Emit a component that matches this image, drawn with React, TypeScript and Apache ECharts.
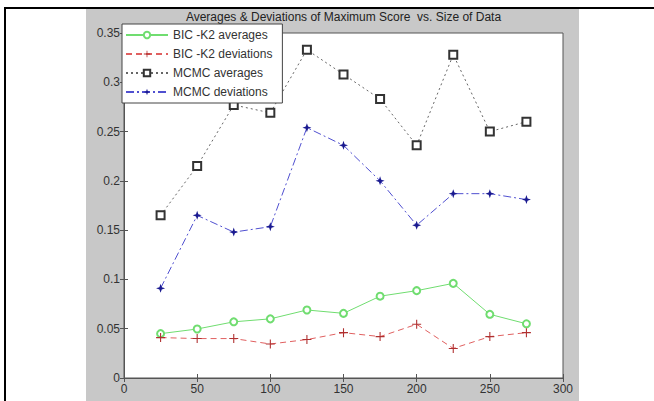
import React, { useEffect, useRef } from "react";
import * as echarts from "echarts";

const sizes = [25, 50, 75, 100, 125, 150, 175, 200, 225, 250, 275];
const bicAverages = [0.045, 0.0497, 0.057, 0.06, 0.069, 0.0656, 0.083, 0.0886, 0.096, 0.0646, 0.055];
const bicDeviations = [0.041, 0.04, 0.04, 0.0345, 0.039, 0.046, 0.042, 0.0545, 0.03, 0.042, 0.046];
const mcmcAverages = [0.165, 0.215, 0.277, 0.269, 0.333, 0.308, 0.283, 0.236, 0.328, 0.25, 0.26];
const mcmcDeviations = [0.091, 0.165, 0.148, 0.1535, 0.254, 0.236, 0.2, 0.155, 0.187, 0.187, 0.181];
const seriesNames = ["BIC -K2 averages", "BIC -K2 deviations", "MCMC averages", "MCMC deviations"];
const xTicks = { min: 0, max: 300, interval: 50 };
const yTicks = { min: 0, max: 0.35, interval: 0.05 };
const titleText = "Averages & Deviations of Maximum Score  vs. Size of Data";

const PLUS = "path://M4.4,0 H5.6 V4.4 H10 V5.6 H5.6 V10 H4.4 V5.6 H0 V4.4 H4.4 Z";
const STAR = "path://M5,0 L6.3,3.7 L10,5 L6.3,6.3 L5,10 L3.7,6.3 L0,5 L3.7,3.7 Z";

const FONT = "'Liberation Sans', Arial, sans-serif";

function pairs(vals: number[]) {
  return sizes.map((s, i) => [s, vals[i]]);
}

export default function App() {
  const ref = useRef<HTMLDivElement>(null);
  useEffect(() => {
    document.body.style.margin = "0";
    const chart = echarts.init(ref.current!, null, { renderer: "svg" });
    const tickStyle = { show: true, inside: true, length: 4, lineStyle: { color: "#555" } };
    const axisLine = { show: true, lineStyle: { color: "#555", width: 1 } };
    const label = { color: "#333", fontSize: 12, fontFamily: FONT };
    chart.setOption({
      animation: false,
      backgroundColor: "#fff",
      textStyle: { fontFamily: FONT },
      graphic: [
        { type: "rect", z: -10, shape: { x: 86, y: 9, width: 493, height: 392 }, style: { fill: "#c8c8c8" } },
        { type: "rect", z: 10, shape: { x: 4, y: 7, width: 650, height: 2 }, style: { fill: "#000" } },
        { type: "rect", z: 10, shape: { x: 4, y: 7, width: 2, height: 394 }, style: { fill: "#000" } },
        {
          type: "text",
          z: 10,
          x: 343.5,
          y: 17,
          style: {
            text: titleText,
            textAlign: "center",
            textVerticalAlign: "middle",
            fill: "#222",
            fontSize: 12,
            fontFamily: FONT,
          },
        },
      ],
      grid: {
        left: 124,
        top: 33,
        width: 439,
        height: 345,
        show: true,
        backgroundColor: "#fff",
        borderColor: "#555",
        borderWidth: 1,
      },
      legend: {
        data: seriesNames,
        orient: "vertical",
        left: 122,
        top: 24,
        backgroundColor: "#fff",
        borderColor: "#444",
        borderWidth: 1,
        borderRadius: 0,
        padding: [4, 10, 4, 3],
        itemGap: 5,
        itemWidth: 42,
        itemHeight: 8,
        textStyle: { color: "#333", fontSize: 12, fontFamily: FONT, lineHeight: 14 },
        z: 20,
      },
      xAxis: [
        {
          type: "value",
          ...xTicks,
          axisLine,
          axisTick: tickStyle,
          axisLabel: { ...label, margin: 5 },
          splitLine: { show: false },
        },
        {
          type: "value",
          position: "top",
          ...xTicks,
          axisLine,
          axisTick: tickStyle,
          axisLabel: { show: false },
          splitLine: { show: false },
        },
      ],
      yAxis: [
        {
          type: "value",
          ...yTicks,
          axisLine,
          axisTick: tickStyle,
          axisLabel: { ...label, margin: 4 },
          splitLine: { show: false },
        },
        {
          type: "value",
          position: "right",
          ...yTicks,
          axisLine,
          axisTick: tickStyle,
          axisLabel: { show: false },
          splitLine: { show: false },
        },
      ],
      series: [
        {
          name: seriesNames[0],
          type: "line",
          data: pairs(bicAverages),
          symbol: "emptyCircle",
          symbolSize: 7,
          lineStyle: { color: "#70dd70", width: 1, type: "solid" },
          itemStyle: { color: "#70dd70", borderColor: "#5ccc5c", borderWidth: 1 },
        },
        {
          name: seriesNames[1],
          type: "line",
          data: pairs(bicDeviations),
          symbol: PLUS,
          symbolSize: 9,
          lineStyle: { color: "#e06060", width: 1, type: [6, 4] },
          itemStyle: { color: "#b03030" },
        },
        {
          name: seriesNames[2],
          type: "line",
          data: pairs(mcmcAverages),
          symbol: "emptyRect",
          symbolSize: 8,
          lineStyle: { color: "#666", width: 1, type: [2, 3] },
          itemStyle: { color: "#333", borderColor: "#333", borderWidth: 1 },
        },
        {
          name: seriesNames[3],
          type: "line",
          data: pairs(mcmcDeviations),
          symbol: STAR,
          symbolSize: 9,
          lineStyle: { color: "#5050d0", width: 1, type: [8, 3, 2, 3] },
          itemStyle: { color: "#1a1a90" },
        },
      ],
    });
    return () => chart.dispose();
  }, []);
  return <div ref={ref} style={{ width: 654, height: 401 }} />;
}
